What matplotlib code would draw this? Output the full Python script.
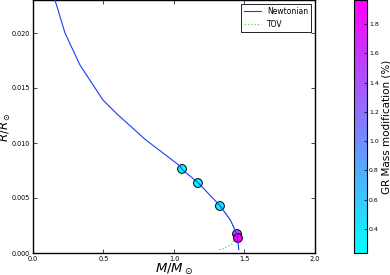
import matplotlib
matplotlib.use('Agg')
import matplotlib.pyplot as plt
import numpy as np

# Newtonian mass-radius relation
newt_mass = [0.125, 0.156, 0.227, 0.333, 0.496, 0.603, 0.801, 1.043, 1.057, 1.17, 1.326, 1.40, 1.447, 1.46]
newt_radius = [0.0245, 0.0230, 0.0200, 0.01709, 0.01391, 0.01255, 0.01027, 0.00791, 0.0076, 0.0064, 0.0043, 0.0030, 0.0017, 0.0003]

# TOV curve, only visible where it leaves the Newtonian one
tov_mass = [1.326, 1.40, 1.425, 1.435, 1.43, 1.41, 1.38, 1.35, 1.32]
tov_radius = [0.0043, 0.0030, 0.0023, 0.0017, 0.0012, 0.0008, 0.0006, 0.0004, 0.0003]

# GR mass modification points
pt_mass = [1.057, 1.17, 1.326, 1.447, 1.454]
pt_radius = [0.00764, 0.00636, 0.00427, 0.00173, 0.00136]
pt_mod = [0.27, 0.29, 0.33, 1.45, 1.96]

fig = plt.figure(figsize=(3.9, 2.75), dpi=100)
ax = fig.add_axes([0.0846, 0.08, 0.723, 0.92])
cax = fig.add_axes([0.908, 0.08, 0.033, 0.92])

sc = ax.scatter(pt_mass, pt_radius, c=pt_mod, cmap='cool', vmin=0.234, vmax=1.966,
                s=40, edgecolors='black', linewidths=0.7, zorder=2)
ax.plot(newt_mass, newt_radius, color='#1a3cff', lw=0.8, label='Newtonian', zorder=3)
ax.plot(tov_mass, tov_radius, color='#66cc66', lw=0.9, ls=':', label='TOV', zorder=1)

ax.set_xlim(0, 2.0)
ax.set_ylim(0, 0.023)
ax.set_xticks([0.0, 0.5, 1.0, 1.5, 2.0])
ax.set_yticks([0.000, 0.005, 0.010, 0.015, 0.020])
ax.set_yticklabels(['0.000', '0.005', '0.010', '0.015', '0.020'])
ax.tick_params(direction='in', labelsize=4.7, length=3, width=0.5, top=True, right=True, pad=2)
for s in ax.spines.values():
    s.set_linewidth(1.0)
ax.set_xlabel(r'$M/M_\odot$', fontsize=9.5, labelpad=0)
ax.set_ylabel(r'$R/R_\odot$', fontsize=8.5)
ax.yaxis.set_label_coords(-0.072, 0.5)

leg = ax.legend(loc='upper right', fontsize=5.5, fancybox=False, framealpha=1,
                edgecolor='black', handlelength=2.2, borderpad=0.4)
leg.get_frame().set_linewidth(0.6)

cb = fig.colorbar(sc, cax=cax)
cb.set_ticks([0.4, 0.6, 0.8, 1.0, 1.2, 1.4, 1.6, 1.8])
cb.ax.tick_params(direction='in', labelsize=4.5, length=2, width=0.5, pad=1.5)
cb.outline.set_linewidth(0.8)
cb.set_label('GR Mass modification (%)', fontsize=7.5)
cb.ax.yaxis.set_label_coords(2.1, 0.5)

fig.savefig('out.png', dpi=100)
